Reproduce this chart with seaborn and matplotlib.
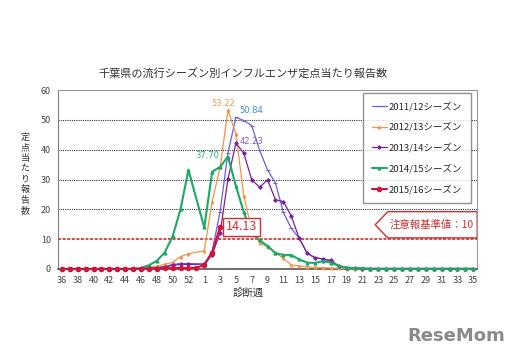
import numpy as np
import pandas as pd
import matplotlib
matplotlib.use("Agg")
import matplotlib.pyplot as plt
from matplotlib.patches import Polygon
import seaborn as sns

# データ（週36〜53、1〜35）
weeks = list(range(36, 54)) + list(range(1, 36))
nan = np.nan

s2011 = [0.0, 0.0, 0.0, 0.0, 0.0, 0.0, 0.0, 0.0, 0.1, 0.1, 0.2, 0.3,
         0.5, 0.8, 1.5, 1.8, 1.8, nan,
         1.6, 6.0, 19.2, 39.0, 50.84, 49.8, 48.1, 39.8, 33.2, 28.8, 19.0, 13.6,
         10.3, 5.3, 3.6, 3.4, 2.5, 1.0, 0.5, 0.3, 0.2, 0.1, 0.1, 0.0, 0.0, 0.0,
         0.0, 0.0, 0.0, 0.0, 0.0, 0.0, 0.0, 0.0, 0.0]
s2012 = [0.0, 0.0, 0.0, 0.0, 0.0, 0.0, 0.0, 0.0, 0.0, 0.1, 0.2, 0.5,
         0.9, 1.5, 2.2, 4.1, 5.1, nan,
         6.1, 22.6, 34.1, 53.22, 45.3, 24.5, 13.0, 8.8, 7.3, 5.3, 3.6, 1.3,
         1.0, 0.7, 0.5, 0.4, 0.3, 0.2, 0.1, 0.0, 0.0, 0.0, 0.0, 0.0, 0.0, 0.0,
         0.0, 0.0, 0.0, 0.0, 0.0, 0.0, 0.0, 0.0, 0.0]
s2013 = [0.0, 0.0, 0.0, 0.0, 0.0, 0.0, 0.0, 0.0, 0.0, 0.1, 0.1, 0.2,
         0.3, 0.6, 1.2, 1.5, 1.5, nan,
         1.6, 4.8, 12.0, 30.2, 42.23, 38.8, 29.9, 27.4, 29.9, 23.2, 22.6, 17.7,
         10.3, 5.3, 3.8, 3.3, 2.9, 1.0, 0.4, 0.2, 0.1, 0.0, 0.0, 0.0, 0.0, 0.0,
         0.0, 0.0, 0.0, 0.0, 0.0, 0.0, 0.0, 0.0, 0.0]
s2014 = [0.0, 0.0, 0.0, 0.0, 0.0, 0.0, 0.0, 0.0, 0.0, 0.0, 0.3, 1.2,
         2.7, 5.5, 10.9, 20.0, 33.2, nan,
         13.9, 32.6, 34.2, 37.70, 27.8, 19.0, 12.0, 9.6, 7.7, 5.3, 4.7, 4.6,
         3.2, 2.1, 2.0, 2.6, 2.1, 1.0, 0.4, 0.3, 0.2, 0.1, 0.1, 0.1, 0.1, 0.1,
         0.1, 0.1, 0.1, 0.1, 0.1, 0.1, 0.1, 0.1, 0.1]
s2015 = [0.0, 0.0, 0.0, 0.0, 0.0, 0.0, 0.0, 0.0, 0.0, 0.0, 0.0, 0.1,
         0.1, 0.2, 0.3, 0.3, 0.3, 0.4,
         1.3, 5.5, 14.13] + [nan] * 32

seasons = ["2011/12シーズン", "2012/13シーズン", "2013/14シーズン",
           "2014/15シーズン", "2015/16シーズン"]
values = [s2011, s2012, s2013, s2014, s2015]
colors = ["#6F5FD8", "#F2954C", "#7A2098", "#1CA866", "#D0143C"]
markers = ["_", "^", "D", "^", "o"]
msizes = [2.5, 2, 1.8, 2.2, 3.2]
lwidths = [0.9, 0.9, 0.9, 1.5, 1.5]

threshold = 10
threshold_label = "注意報基準値：10"
peak_labels = [("53.22", 20.4, 55.6, "#F2954C"), ("50.84", 24.0, 53.2, "#3A8AD8"),
               ("42.23", 24.0, 42.7, "#8A5AD8"), ("37.70", 18.4, 37.9, "#2AB070")]

sns.set_style("white")
plt.rcParams["font.family"] = ["Noto Sans CJK JP", "DejaVu Sans"]

fig = plt.figure(figsize=(5.17, 3.59), dpi=100)
ax = fig.add_axes([0.112, 0.251, 0.811, 0.498])

x = np.arange(len(weeks))
for name, vals, c, m, ms, lw in zip(seasons, values, colors, markers, msizes, lwidths):
    df = pd.DataFrame({"x": x, "y": vals}).dropna()
    sns.lineplot(data=df, x="x", y="y", ax=ax, color=c, marker=m, markersize=ms,
                 markeredgecolor=c, markeredgewidth=0.8, linewidth=lw, label=name,
                 clip_on=False, zorder=3)

# グリッド
for g in [20, 30, 40, 50]:
    ax.axhline(g, color="#333333", linestyle=(0, (1, 1)), linewidth=0.8, zorder=1)
ax.axhline(threshold, color="#E01010", linestyle=(0, (2, 1)), linewidth=1.1, zorder=2)

ax.set_xlim(-0.5, 52.5)
ax.set_ylim(0, 60)
ax.set_yticks(range(0, 61, 10))
ax.set_xticks(x)
ax.set_xticklabels([str(w) if i % 2 == 0 else "" for i, w in enumerate(weeks)])
ax.tick_params(axis="x", direction="in", length=2, width=0.6, color="#444444",
               labelsize=6.5, labelcolor="#444444", pad=5)
ax.tick_params(axis="y", length=0, labelsize=6.5, labelcolor="#444444", pad=5)
ax.set_xlabel("")
ax.set_ylabel("")
for side in ["top", "right"]:
    ax.spines[side].set_color("#9A9A9A")
    ax.spines[side].set_linewidth(0.8)
ax.spines["left"].set_color("#808080")
ax.spines["bottom"].set_color("#555555")
ax.spines["bottom"].set_linewidth(1.2)

# ラベル
for txt, lx, ly, c in peak_labels:
    ax.text(lx, ly, txt, color=c, fontsize=6, ha="center", va="center",
            family=["DejaVu Sans"])
ax.text(22.7, 14.1, "14.13", color="#D03030", fontsize=9, ha="center", va="center",
        bbox=dict(boxstyle="square,pad=0.2", fc="white", ec="#D03030", lw=1.0), zorder=5)

poly = Polygon([(39.6, 14.8), (41.2, 19.2), (52.5, 19.2), (52.5, 10.4), (41.2, 10.4)],
               closed=True, fc="white", ec="#D03030", lw=1.0, zorder=5)
ax.add_patch(poly)
ax.text(46.8, 14.8, threshold_label, color="#D03030", fontsize=7.5,
        ha="center", va="center", zorder=6)

leg = ax.legend(loc="upper right", bbox_to_anchor=(0.985, 0.985), fontsize=6.8,
                frameon=True, fancybox=False, edgecolor="#777777",
                handlelength=1.6, handletextpad=0.2, labelspacing=1.15,
                borderpad=0.9, borderaxespad=0)
leg.get_frame().set_linewidth(1.0)

fig.text(0.47, 0.797, "千葉県の流行シーズン別インフルエンザ定点当たり報告数",
         ha="center", va="center", fontsize=8, color="#333333")

# 縦書きの軸ラベル（1文字ずつ）
ylab = "定点当たり報告数"
for k, ch in enumerate(ylab):
    fig.text(25 / 517, 1 - (137 + k * 10.5) / 359, ch, ha="center", va="center",
             fontsize=6.5, color="#333333")
fig.text(248 / 517, 1 - 293 / 359, "診断週", ha="center", va="center",
         fontsize=7.5, color="#333333")
fig.text(0.882, 0.064, "ReseMom", ha="center", va="center", fontsize=13,
         fontweight="bold", color="#8A8A8A", family=["DejaVu Sans"])

fig.savefig("out.png", dpi=100)
